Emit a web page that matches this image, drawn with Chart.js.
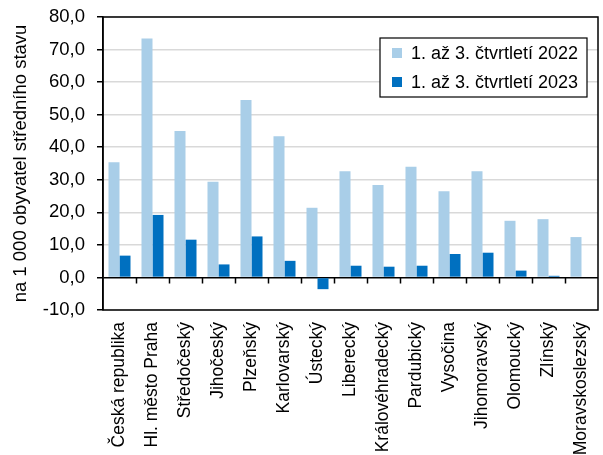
<!DOCTYPE html>
<html>
<head>
<meta charset="utf-8">
<script src="https://cdn.jsdelivr.net/npm/chart.js@4/dist/chart.umd.min.js"></script>
<style>
  html, body { margin: 0; padding: 0; background: #fff; }
  #wrap { width: 603px; height: 455px; }
</style>
</head>
<body>
<div id="wrap"><canvas id="chart" width="603" height="455"></canvas></div>
<script>
const categories = ["Česká republika", "Hl. město Praha", "Středočeský", "Jihočeský", "Plzeňský",
  "Karlovarský", "Ústecký", "Liberecký", "Královéhradecký", "Pardubický", "Vysočina",
  "Jihomoravský", "Olomoucký", "Zlínský", "Moravskoslezský"];
const values2022 = [35.4, 73.4, 45.0, 29.4, 54.5, 43.4, 21.4, 32.6, 28.4, 34.0, 26.5, 32.6, 17.4, 17.9, 12.4];
const values2023 = [6.7, 19.2, 11.6, 4.0, 12.6, 5.1, -3.6, 3.6, 3.3, 3.6, 7.2, 7.6, 2.1, 0.5, 0.0];
const seriesLabels = ["1. až 3. čtvrtletí 2022", "1. až 3. čtvrtletí 2023"];
const yTicks = { min: -10, max: 80, step: 10 };

const FONT = "'Liberation Sans', Arial, sans-serif";

// frame, tick marks on the zero line and the boxed legend inside the plot
const extras = {
  id: "extras",
  afterDraw(chart) {
    const { ctx, chartArea: a, scales } = chart;
    const x = scales.x, y = scales.y;
    ctx.save();
    ctx.strokeStyle = "#000";
    ctx.lineWidth = 1.5;
    ctx.strokeRect(a.left, a.top, a.right - a.left, a.bottom - a.top);

    const y0 = y.getPixelForValue(0);
    const step = (a.right - a.left) / categories.length;
    ctx.beginPath();
    for (let i = 1; i < categories.length; i++) {
      const px = Math.round(x.getPixelForValue(i) - step / 2) + 0.5;
      ctx.moveTo(px, y0);
      ctx.lineTo(px, y0 + 6);
    }
    ctx.stroke();

    // legend
    const w = 207, h = 59;
    const lx = a.right - 11 - w, ly = a.top + 21;
    ctx.fillStyle = "#fff";
    ctx.fillRect(lx, ly, w, h);
    ctx.lineWidth = 1.2;
    ctx.strokeRect(lx, ly, w, h);
    ctx.font = "18px " + FONT;
    ctx.textBaseline = "middle";
    chart.data.datasets.forEach((ds, i) => {
      const cy = ly + 15 + i * 29;
      ctx.fillStyle = ds.backgroundColor;
      ctx.fillRect(lx + 12, cy - 5, 10, 10);
      ctx.fillStyle = "#000";
      ctx.fillText(ds.label, lx + 31, cy + 1);
    });
    ctx.restore();
  }
};

new Chart(document.getElementById("chart"), {
  type: "bar",
  data: {
    labels: categories,
    datasets: [
      { label: seriesLabels[0], data: values2022, backgroundColor: "#a9cee8" },
      { label: seriesLabels[1], data: values2023, backgroundColor: "#0070c0" }
    ]
  },
  options: {
    responsive: false,
    animation: false,
    devicePixelRatio: 1,
    layout: { padding: { top: 17, right: 5, left: 10, bottom: 0 } },
    datasets: { bar: { categoryPercentage: 0.667, barPercentage: 1.0 } },
    plugins: { legend: { display: false }, tooltip: { enabled: false } },
    scales: {
      x: {
        grid: { display: false, drawTicks: false },
        border: { display: false },
        ticks: { color: "#000", font: { family: FONT, size: 17.5 }, minRotation: 90, maxRotation: 90, padding: 12, autoSkip: false },
        afterFit(scale) { scale.height = 145; scale.paddingLeft = 0; scale.paddingRight = 0; }
      },
      y: {
        min: yTicks.min,
        max: yTicks.max,
        ticks: {
          stepSize: yTicks.step,
          color: "#000",
          padding: 12,
          font: { family: FONT, size: 18.5 },
          callback: (v) => v.toFixed(1).replace(".", ",")
        },
        grid: {
          color: (c) => c.tick && c.tick.value === 0 ? "#000" : "#d9d9d9",
          lineWidth: 1.5,
          tickLength: 6,
          tickColor: "#000"
        },
        border: { color: "#000", width: 1.5 },
        title: {
          display: true,
          text: "na 1 000 obyvatel středního stavu",
          color: "#000",
          font: { family: FONT, size: 18.5 },
          padding: 0
        },
        afterFit(scale) { scale.width = 93; scale.paddingTop = 0; scale.paddingBottom = 0; }
      }
    }
  },
  plugins: [extras]
});
</script>
</body>
</html>
